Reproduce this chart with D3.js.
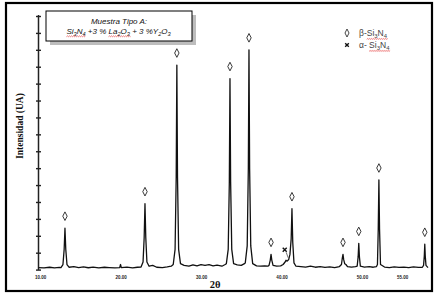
<!DOCTYPE html>
<html>
<head>
<meta charset="utf-8">
<script src="https://cdn.jsdelivr.net/npm/d3@7"></script>
<style>
  body { margin: 0; background: #fff; }
  svg { display: block; }
</style>
</head>
<body>
<div id="canvas"></div>
<script>
// X-ray diffraction trace: [2theta, intensity (a.u.)]
let trace = [
    [9.8, 0.12], [10.5, 0.1], [11.2, 0.14], [11.8, 0.1], [12.4, 0.13],
    [12.6, 0.12], [12.85, 0.3], [13.0, 1.2], [13.1, 2.45], [13.2, 1.2], [13.35, 0.3], [13.6, 0.14],
    [14.2, 0.18], [14.8, 0.12], [15.4, 0.16], [16.0, 0.11], [16.6, 0.15], [17.3, 0.1], [18.0, 0.14],
    [18.6, 0.12], [19.3, 0.1], [19.9, 0.12], [20.0, 0.3], [20.1, 0.12], [20.8, 0.15], [21.5, 0.1], [22.1, 0.14],
    [22.55, 0.15], [22.8, 0.45], [22.94, 1.9], [23.04, 3.9], [23.14, 1.9], [23.28, 0.45], [23.55, 0.2],
    [24.0, 0.25], [24.5, 0.14], [25.2, 0.12], [25.8, 0.16], [26.3, 0.2],
    [26.55, 0.3], [26.78, 1.2], [26.92, 5.5], [27.0, 12.1], [27.08, 5.5], [27.22, 1.2], [27.45, 0.35],
    [27.9, 0.25], [28.5, 0.2], [29.0, 0.28], [29.5, 0.22], [30.0, 0.3], [30.5, 0.25], [31.0, 0.3],
    [31.5, 0.22], [32.0, 0.26], [32.6, 0.2], [33.0, 0.3],
    [33.15, 0.35], [33.38, 1.2], [33.52, 5.2], [33.6, 11.3], [33.68, 5.2], [33.82, 1.2], [34.05, 0.35],
    [34.5, 0.28], [35.0, 0.25], [35.4, 0.35],
    [35.5, 0.4], [35.74, 1.4], [35.88, 6], [35.96, 13.0], [36.04, 6], [36.18, 1.4], [36.42, 0.35],
    [36.9, 0.22], [37.4, 0.2], [37.9, 0.22], [38.3, 0.2],
    [38.45, 0.25], [38.6, 0.55], [38.7, 0.9], [38.8, 0.55], [38.95, 0.25],
    [39.4, 0.2], [39.9, 0.22], [40.2, 0.3],
    [40.45, 0.45], [40.56, 0.55], [40.7, 0.5], [40.9, 0.6],
    [41.05, 0.9], [41.2, 1.8], [41.3, 3.6], [41.4, 1.6], [41.55, 0.4], [41.8, 0.2],
    [42.4, 0.18], [43.0, 0.15], [43.6, 0.2], [44.2, 0.14], [44.8, 0.18], [45.4, 0.13], [46.0, 0.16],
    [46.6, 0.12], [47.2, 0.18],
    [47.45, 0.3], [47.56, 0.7], [47.64, 0.9], [47.72, 0.6], [47.85, 0.35], [48.0, 0.3], [48.2, 0.18],
    [48.7, 0.15], [49.2, 0.17],
    [49.4, 0.2], [49.52, 0.75], [49.6, 1.55], [49.68, 0.75], [49.8, 0.2],
    [50.3, 0.15], [50.9, 0.17], [51.4, 0.14], [51.8, 0.18],
    [51.92, 0.3], [52.02, 2.4], [52.1, 5.3], [52.18, 2.4], [52.3, 0.3],
    [52.8, 0.15], [53.4, 0.12], [54.0, 0.16], [54.6, 0.13], [55.2, 0.15], [55.8, 0.12], [56.4, 0.16],
    [57.0, 0.13], [57.5, 0.14],
    [57.65, 0.25], [57.74, 0.8], [57.8, 1.5], [57.86, 0.8], [57.95, 0.25], [58.2, 0.12]
]

// peaks marked as beta-Si3N4 (diamonds) and alpha-Si3N4 (cross)
let betaPos = [13.1, 23.04, 27.0, 33.6, 35.96, 38.7, 41.3, 47.64, 49.6, 52.1, 57.8]
let betaHeight = [2.45, 3.9, 12.1, 11.3, 13.0, 0.9, 3.6, 0.9, 1.55, 5.3, 1.5]
let alphaPos = [40.4]
let alphaHeight = [1.05]

let xTicks = [10, 20, 30, 40, 50, 55]
let yTicks = d3.range(0, 16)

let width = 434
let height = 296

let svg = d3.select('#canvas').append('svg')
    .attr('width', width)
    .attr('height', height)

// outer frame
svg.append('rect')
    .attr('x', 6).attr('y', 3)
    .attr('width', 426).attr('height', 288)
    .attr('fill', '#fff')
    .attr('stroke', '#000')
    .attr('stroke-width', 2.2)

let x = d3.scaleLinear().domain([9.75, 58.2]).range([38, 428])
let y = d3.scaleLinear().domain([0, 15]).range([269.6, 16])

// y axis, unlabelled ticks
let yAxis = svg.append('g')
    .attr('transform', 'translate(38.5,0)')
    .call(d3.axisLeft(y).tickValues(yTicks).tickSize(2).tickFormat(''))
yAxis.select('.domain').remove()
yAxis.append('line')
    .attr('x1', 0).attr('x2', 0)
    .attr('y1', 15).attr('y2', 270)
    .attr('stroke', '#222')
    .attr('stroke-width', 1.5)
yAxis.selectAll('.tick line')
    .attr('x1', 2.5)
    .attr('x2', -2.5)
    .attr('stroke', '#222')
    .attr('stroke-width', 1.4)

// x axis labels only
let xAxis = svg.append('g')
    .attr('transform', 'translate(0,270)')
    .call(d3.axisBottom(x).tickValues(xTicks).tickSize(0).tickFormat(d3.format('.2f')))
xAxis.select('.domain').remove()
xAxis.selectAll('text')
    .attr('dy', 6)
    .attr('font-family', 'Liberation Sans, Arial, sans-serif')
    .attr('font-weight', 'bold')
    .attr('font-size', 4.5)
    .attr('fill', '#222')

// diffraction trace
let line = d3.line()
    .x((d) => x(d[0]))
    .y((d) => y(d[1]))

svg.append('path')
    .datum(trace)
    .attr('d', line)
    .attr('fill', 'none')
    .attr('stroke', '#111')
    .attr('stroke-width', 1.3)
    .attr('stroke-linejoin', 'round')

// diamond marker path centred on 0,0
let diamond = function (w, h) {
    let p = d3.path()
    p.moveTo(0, -h)
    p.lineTo(w, 0)
    p.lineTo(0, h)
    p.lineTo(-w, 0)
    p.closePath()
    return p.toString()
}

let cross = function (s) {
    let p = d3.path()
    p.moveTo(-s, -s)
    p.lineTo(s, s)
    p.moveTo(s, -s)
    p.lineTo(-s, s)
    return p.toString()
}

svg.append('g')
    .selectAll('path')
    .data(betaPos)
    .enter()
    .append('path')
    .attr('transform', (d, i) => 'translate(' + x(d) + ',' + (y(betaHeight[i]) - 12) + ')')
    .attr('d', diamond(2.2, 4.3))
    .attr('fill', '#fff')
    .attr('stroke', '#222')
    .attr('stroke-width', 0.9)

let alphaG = svg.append('g')
    .selectAll('g')
    .data(alphaPos)
    .enter()
    .append('g')
    .attr('transform', (d, i) => 'translate(' + x(d) + ',' + (y(alphaHeight[i]) - 2) + ')')
alphaG.append('path')
    .attr('d', cross(2))
    .attr('stroke', '#111')
    .attr('stroke-width', 1.4)
alphaG.append('line')
    .attr('x1', 1.5).attr('y1', 2.5)
    .attr('x2', 3.5).attr('y2', 8)
    .attr('stroke', '#333')
    .attr('stroke-width', 0.7)

// axis titles
svg.append('text')
    .attr('transform', 'translate(23,126) rotate(-90)')
    .attr('text-anchor', 'middle')
    .attr('font-family', 'Liberation Serif, Times New Roman, serif')
    .attr('font-weight', 'bold')
    .attr('font-size', 9.5)
    .attr('fill', '#111')
    .text('Intensidad (UA)')

svg.append('text')
    .attr('x', 215).attr('y', 288)
    .attr('text-anchor', 'middle')
    .attr('font-family', 'Liberation Serif, Times New Roman, serif')
    .attr('font-weight', 'bold')
    .attr('font-size', 10.5)
    .attr('fill', '#111')
    .text('2θ')

// sample box with shadow
svg.append('rect')
    .attr('x', 50).attr('y', 15)
    .attr('width', 146).attr('height', 30)
    .attr('fill', '#bdbdbd')
svg.append('rect')
    .attr('x', 46).attr('y', 11)
    .attr('width', 146).attr('height', 30)
    .attr('fill', '#fff')
    .attr('stroke', '#000')
    .attr('stroke-width', 1)

let boxFont = 'Liberation Sans, Arial, sans-serif'

svg.append('text')
    .attr('x', 119).attr('y', 23.5)
    .attr('text-anchor', 'middle')
    .attr('font-family', boxFont)
    .attr('font-style', 'italic')
    .attr('font-size', 8)
    .attr('fill', '#111')
    .text('Muestra Tipo A:')

// chemical formula with subscripts: [text, isSubscript, squiggle group]
let formulaParts = [
    ['Si', false, 1], ['3', true, 1], ['N', false, 1], ['4', true, 1],
    [' +3 % ', false, 0],
    ['La', false, 2], ['2', true, 2], ['O', false, 2], ['3', true, 2],
    [' + 3 %Y', false, 0], ['2', true, 0], ['O', false, 0], ['3', true, 0]
]

let addFormula = function (g, parts, size) {
    let t = g.append('text')
    let low = false
    parts.forEach(function (p) {
        let shift = 0
        if (p[1] && !low) shift = size * 0.25
        if (!p[1] && low) shift = -size * 0.25
        low = p[1]
        t.append('tspan')
            .attr('class', p[2] ? 'sq' + p[2] : null)
            .attr('font-size', p[1] ? size * 0.7 : size)
            .attr('dy', shift)
            .text(p[0])
    })
    return t
}

let squiggle = function (g, t, cls) {
    let boxes = []
    t.selectAll('tspan.' + cls).each(function () {
        boxes.push(this.getBBox())
    })
    if (!boxes.length) return
    let x0 = d3.min(boxes, (b) => b.x)
    let x1 = d3.max(boxes, (b) => b.x + b.width)
    let yy = d3.max(boxes, (b) => b.y + b.height) + 0.2
    let p = d3.path()
    p.moveTo(x0, yy)
    let up = true
    for (let xx = x0 + 1; xx <= x1; xx += 1) {
        p.lineTo(xx, up ? yy - 0.8 : yy)
        up = !up
    }
    g.append('path')
        .attr('d', p.toString())
        .attr('fill', 'none')
        .attr('stroke', '#e02020')
        .attr('stroke-width', 0.6)
}

let fg = svg.append('g')
    .attr('font-family', boxFont)
    .attr('font-style', 'italic')
    .attr('fill', '#111')
let ft = addFormula(fg, formulaParts, 8)
let fw = ft.node().getBBox().width
fg.attr('transform', 'translate(' + (119 - fw / 2) + ',33.5)')
squiggle(fg, ft, 'sq1')
squiggle(fg, ft, 'sq2')

// legend
let legend = svg.append('g')
    .attr('font-family', boxFont)
    .attr('fill', '#444')

legend.append('path')
    .attr('transform', 'translate(347,33)')
    .attr('d', diamond(2, 4))
    .attr('fill', '#fff')
    .attr('stroke', '#333')
    .attr('stroke-width', 0.9)
legend.append('path')
    .attr('transform', 'translate(347,45)')
    .attr('d', cross(1.8))
    .attr('stroke', '#111')
    .attr('stroke-width', 1.4)

let betaParts = [['β-', false, 0], ['Si', false, 1], ['3', true, 1], ['N', false, 1], ['4', true, 1]]
let alphaParts = [['α- ', false, 0], ['Si', false, 1], ['3', true, 1], ['N', false, 1], ['4', true, 1]]

let lb = legend.append('g').attr('transform', 'translate(359,36)')
let lbt = addFormula(lb, betaParts, 8.5)
squiggle(lb, lbt, 'sq1')
let la = legend.append('g').attr('transform', 'translate(359,48)')
let lat = addFormula(la, alphaParts, 8.5)
squiggle(la, lat, 'sq1')
</script>
</body>
</html>
